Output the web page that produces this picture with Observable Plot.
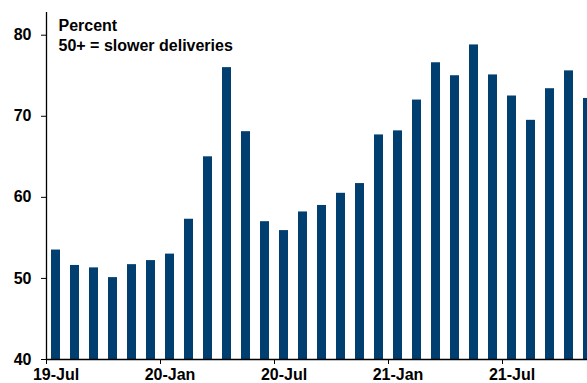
<!DOCTYPE html>
<html>
<head>
<meta charset="utf-8">
<script src="https://cdn.jsdelivr.net/npm/d3@7"></script>
<script src="https://cdn.jsdelivr.net/npm/@observablehq/plot@0.6"></script>
<style>
  html, body { margin: 0; padding: 0; background: #fff; overflow: hidden; }
  #chart { width: 587px; height: 383px; overflow: hidden; }
</style>
</head>
<body>
<div id="chart"></div>
<script>
const months = ["19-Jul","19-Aug","19-Sep","19-Oct","19-Nov","19-Dec",
  "20-Jan","20-Feb","20-Mar","20-Apr","20-May","20-Jun",
  "20-Jul","20-Aug","20-Sep","20-Oct","20-Nov","20-Dec",
  "21-Jan","21-Feb","21-Mar","21-Apr","21-May","21-Jun",
  "21-Jul","21-Aug","21-Sep","21-Oct","21-Nov"];
const values = [53.5, 51.6, 51.3, 50.1, 51.7, 52.2,
  53.0, 57.3, 65.0, 76.0, 68.1, 57.0,
  55.9, 58.2, 59.0, 60.5, 61.7, 67.7,
  68.2, 72.0, 76.6, 75.0, 78.8, 75.1,
  72.5, 69.5, 73.4, 75.6, 72.2];
const tickLabels = ["19-Jul", "20-Jan", "20-Jul", "21-Jan", "21-Jul"];
const yTicks = [40, 50, 60, 70, 80];
const note = ["Percent", "50+ = slower deliveries"];

const data = months.map((m, i) => ({month: m, i, value: values[i]}));
const tickIdx = tickLabels.map(t => months.indexOf(t));

const font = "'Liberation Sans', Arial, sans-serif";
const navy = "#003f6f";

const chart = Plot.plot({
  width: 587,
  height: 383,
  marginLeft: 46,
  marginRight: 0,
  marginTop: 12,
  marginBottom: 24,
  style: {fontFamily: font, fontSize: "16px", fontWeight: "bold", color: "#000", background: "#fff"},
  x: {type: "linear", domain: [0, months.length], range: [46, 46 + 19 * months.length]},
  y: {domain: [40, 82.8]},
  marks: [
    Plot.rectY(data, {x1: d => d.i, x2: d => d.i + 1, y1: 40, y2: "value", fill: navy, insetLeft: 5, insetRight: 5}),
    Plot.axisY({ticks: yTicks, tickSize: 5, tickPadding: 10, tickFormat: d => d, fontSize: 16, fontWeight: "bold", stroke: "#000", label: null}),
    Plot.axisX({ticks: tickIdx, tickSize: 5, tickFormat: () => "", stroke: "#000", label: null}),
    Plot.axisX({ticks: tickIdx.map(i => i + 0.5), tickSize: 0, tickPadding: 9, tickFormat: (d) => months[Math.round(d - 0.5)], fontSize: 16, fontWeight: "bold", label: null}),
    Plot.ruleX([0], {y1: 40, y2: 82.8, stroke: "#000", strokeWidth: 1.3}),
    Plot.ruleY([40], {stroke: "#000", strokeWidth: 1.3}),
    Plot.text([note.join("\n")], {frameAnchor: "top-left", dx: 12, dy: 4, lineAnchor: "top", textAnchor: "start", lineHeight: 1.25, fontSize: 16, fontWeight: "bold", fill: "#000"})
  ]
});
document.getElementById("chart").appendChild(chart);
</script>
</body>
</html>
